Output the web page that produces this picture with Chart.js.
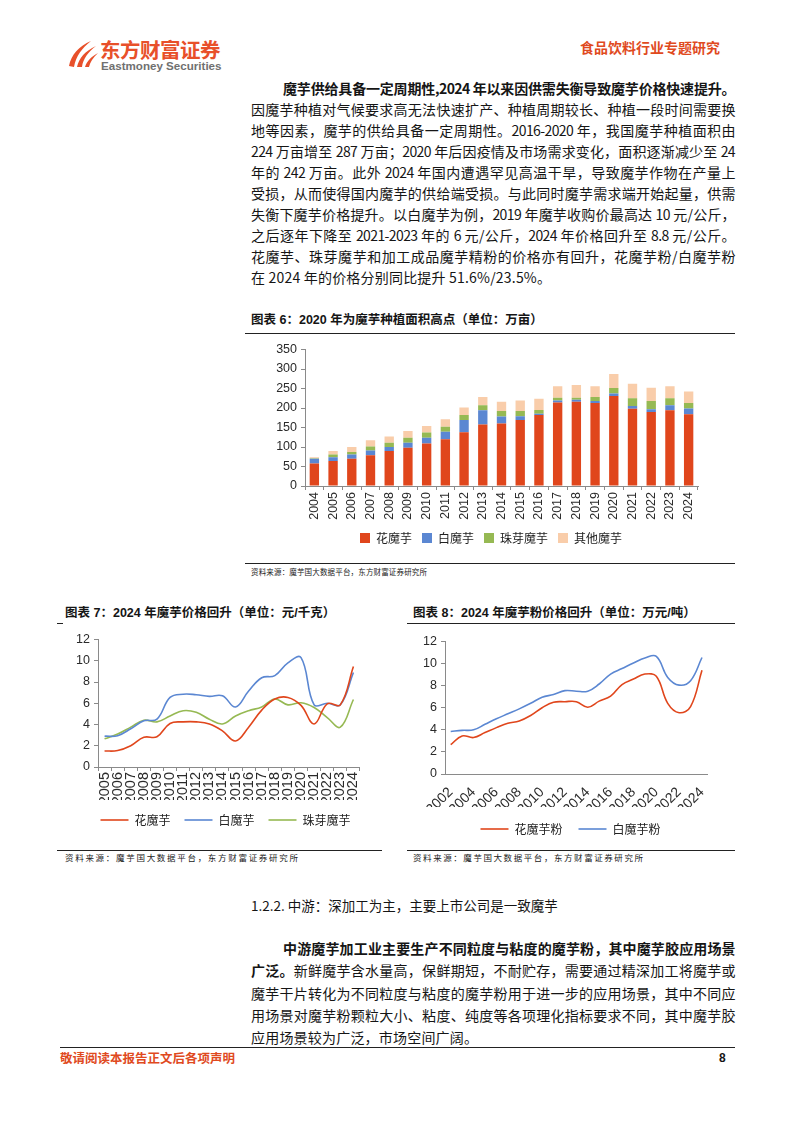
<!DOCTYPE html>
<html>
<head>
<meta charset="utf-8">
<script src="https://cdn.jsdelivr.net/npm/chart.js@4.4.1/dist/chart.umd.min.js"></script>
<style>
  body { margin:0; width:793px; height:1122px; position:relative; background:#fff; overflow:hidden;
         font-family:"Noto Sans CJK SC", sans-serif; color:#151515; }
  .abs { position:absolute; }
  .p { position:absolute; left:251px; width:484px; height:18px; font-size:14px; line-height:18px;
       letter-spacing:-0.6px; text-align:justify; text-align-last:justify; }
  .p.ind { left:283px; width:452px; }
  .p.last { text-align-last:left; letter-spacing:0.2px; }
  .b { font-weight:700; }
  .ttl { position:absolute; font-size:12.5px; line-height:16px; font-weight:700; white-space:nowrap;
         font-family:"Liberation Sans","Noto Sans CJK SC",sans-serif; }
  .rule { position:absolute; height:1px; background:#222; }
  .src { position:absolute; font-size:8.5px; line-height:12px; text-align:justify; text-align-last:justify; color:#222; }
  .box { position:absolute; }
</style>
</head>
<body>

<!-- header -->
<svg class="abs" style="left:67px;top:40px" width="32" height="28" viewBox="0 0 32 28">
  <path d="M2 26 C4 15 12 6 24 1 C15 8 9 16 7 27 Z" fill="#E8502A"/>
  <path d="M10 27 C12 18 18 11 29 6 C21 12 16 19 15 27 Z" fill="#E8502A"/>
  <path d="M18 27 C20 21 24 17 31 13 C26 18 23 22 22 27 Z" fill="#E8502A"/>
</svg>
<div class="abs b" style="left:100px;top:36px;font-size:20.5px;line-height:26px;color:#E8502A;letter-spacing:-0.5px">东方财富证券</div>
<div class="abs" style="left:101px;top:59px;font-size:11.6px;line-height:14px;color:#707070;font-weight:700;font-family:'Liberation Sans',sans-serif">Eastmoney Securities</div>
<div class="abs b" style="right:73px;top:37px;font-size:14px;line-height:20px;color:#E04A1E">食品饮料行业专题研究</div>

<!-- upper paragraph -->
<div class="p ind b" style="top:79px">魔芋供给具备一定周期性,2024 年以来因供需失衡导致魔芋价格快速提升。</div>
<div class="p" style="top:100px">因魔芋种植对气候要求高无法快速扩产、种植周期较长、种植一段时间需要换</div>
<div class="p" style="top:121px">地等因素，魔芋的供给具备一定周期性。2016-2020 年，我国魔芋种植面积由</div>
<div class="p" style="top:142px">224 万亩增至 287 万亩；2020 年后因疫情及市场需求变化，面积逐渐减少至 24</div>
<div class="p" style="top:163px">年的 242 万亩。此外 2024 年国内遭遇罕见高温干旱，导致魔芋作物在产量上</div>
<div class="p" style="top:184px">受损，从而使得国内魔芋的供给端受损。与此同时魔芋需求端开始起量，供需</div>
<div class="p" style="top:205px">失衡下魔芋价格提升。以白魔芋为例，2019 年魔芋收购价最高达 10 元/公斤，</div>
<div class="p" style="top:226px">之后逐年下降至 2021-2023 年的 6 元/公斤，2024 年价格回升至 8.8 元/公斤。</div>
<div class="p" style="top:247px">花魔芋、珠芽魔芋和加工成品魔芋精粉的价格亦有回升，花魔芋粉/白魔芋粉</div>
<div class="p last" style="top:268px">在 2024 年的价格分别同比提升 51.6%/23.5%。</div>

<!-- figure 6 -->
<div class="ttl" style="left:251px;top:312px">图表 6：2020 年为魔芋种植面积高点（单位：万亩）</div>
<div class="rule" style="left:245px;top:333px;width:490px"></div>
<div class="box" style="left:258px;top:338px;width:450px;height:216px"><canvas id="areaChart"></canvas></div>
<div class="rule" style="left:245px;top:563px;width:490px"></div>
<div class="src" style="left:251px;top:566px;width:176px;font-size:7.5px">资料来源：魔芋国大数据平台，东方财富证券研究所</div>

<!-- figure 7 -->
<div class="ttl" style="left:65px;top:605px">图表 7：2024 年魔芋价格回升（单位：元/千克）</div>
<div class="rule" style="left:57px;top:623px;width:6px"></div>
<div class="box" style="left:58px;top:628px;width:314px;height:208px"><canvas id="priceChart"></canvas></div>
<div class="rule" style="left:57px;top:850px;width:325px"></div>
<div class="src" style="left:65px;top:851px;width:233px">资料来源：魔芋国大数据平台，东方财富证券研究所</div>

<!-- figure 8 -->
<div class="ttl" style="left:413px;top:605px">图表 8：2024 年魔芋粉价格回升（单位：万元/吨）</div>
<div class="rule" style="left:407px;top:623px;width:328px"></div>
<div class="box" style="left:405px;top:630px;width:311px;height:215px"><canvas id="powderChart"></canvas></div>
<div class="rule" style="left:407px;top:850px;width:328px"></div>
<div class="src" style="left:413px;top:851px;width:230px">资料来源：魔芋国大数据平台，东方财富证券研究所</div>

<!-- lower section -->
<div class="abs" style="left:251px;top:896px;font-size:13.5px;line-height:18px">1.2.2. 中游：深加工为主，主要上市公司是一致魔芋</div>
<div class="p ind b" style="top:939px">中游魔芋加工业主要生产不同粒度与粘度的魔芋粉，其中魔芋胶应用场景</div>
<div class="p" style="top:961px"><span class="b">广泛。</span>新鲜魔芋含水量高，保鲜期短，不耐贮存，需要通过精深加工将魔芋或</div>
<div class="p" style="top:984px">魔芋干片转化为不同粒度与粘度的魔芋粉用于进一步的应用场景，其中不同应</div>
<div class="p" style="top:1006px">用场景对魔芋粉颗粒大小、粘度、纯度等各项理化指标要求不同，其中魔芋胶</div>
<div class="p last" style="top:1028px">应用场景较为广泛，市场空间广阔。</div>

<!-- footer -->
<div class="rule" style="left:60px;top:1047px;width:675px"></div>
<div class="abs b" style="left:60px;top:1050px;font-size:12.5px;line-height:16px;color:#E04A1E">敬请阅读本报告正文后各项声明</div>
<div class="abs b" style="left:719px;top:1050px;font-size:12px;line-height:16px;font-family:'Liberation Sans',sans-serif">8</div>

<script>
// ── Data ──────────────────────────────────────────────
var areaYears  = ['2004','2005','2006','2007','2008','2009','2010','2011','2012','2013','2014',
                  '2015','2016','2017','2018','2019','2020','2021','2022','2023','2024'];
var huaArea    = [58, 64, 70, 79, 90, 98, 109, 120, 138, 158, 160, 169, 182, 214, 216, 213, 231, 198, 190, 194, 184];
var baiArea    = [12, 10, 11, 12, 10, 13, 15, 19, 31, 36, 18, 10, 3, 5, 5, 5, 6, 7, 7, 13, 15];
var zhuArea    = [1, 7, 6, 10, 11, 13, 13, 13, 13, 13, 14, 13, 10, 7, 5, 10, 14, 20, 21, 18, 14];
var otherArea  = [3, 9, 13, 16, 16, 17, 17, 19, 19, 21, 24, 27, 29, 30, 33, 28, 36, 37, 34, 31, 29];

var priceYears = ['2005','2006','2007','2008','2009','2010','2011','2012','2013','2014',
                  '2015','2016','2017','2018','2019','2020','2021','2022','2023','2024'];
var huaPrice   = [1.5, 1.55, 2.0, 2.8, 2.85, 4.1, 4.25, 4.25, 4.05, 3.4, 2.45, 3.75, 5.35, 6.4, 6.55, 5.8, 4.05, 5.95, 5.85, 9.45];
var baiPrice   = [2.9, 2.95, 3.6, 4.35, 4.5, 6.55, 6.85, 6.8, 6.65, 6.7, 5.65, 7.15, 8.4, 8.6, 9.8, 10.3, 5.85, 6.0, 5.85, 8.9];
var zhuPrice   = [2.65, 3.1, 3.75, 4.4, 4.25, 4.8, 5.3, 5.15, 4.5, 4.05, 4.8, 5.3, 5.65, 6.4, 5.85, 6.05, 5.6, 4.65, 3.75, 6.35];

var powderYears = ['2002','2003','2004','2005','2006','2007','2008','2009','2010','2011','2012','2013',
                   '2014','2015','2016','2017','2018','2019','2020','2021','2022','2023','2024'];
var huaPowder   = [2.65, 3.45, 3.3, 3.75, 4.2, 4.6, 4.8, 5.3, 6.0, 6.5, 6.55, 6.55, 6.05, 6.6, 7.05, 8.1, 8.6, 9.05, 8.85, 6.4, 5.55, 6.1, 9.4];
var baiPowder   = [3.85, 3.95, 4.0, 4.5, 5.0, 5.45, 5.9, 6.4, 6.95, 7.2, 7.55, 7.5, 7.5, 8.15, 9.05, 9.55, 10.05, 10.5, 10.65, 8.75, 8.05, 8.45, 10.55];

// ── Colours ───────────────────────────────────────────
var RED = '#E0461C', BLUE = '#5B87D2', GREEN = '#96B953', PEACH = '#F9CDAA';
var AXIS = '#8a8a8a';

Chart.defaults.font.family = '"Liberation Sans", Arial, sans-serif';
Chart.defaults.color = '#2a2a2a';
Chart.defaults.animation = false;

// nudge the bottom legend sideways so it sits under the plot, not the canvas
var legendShift = {
  id: 'legendShift',
  afterLayout: function (chart, args, opts) {
    var lg = chart.legend;
    if (!lg || !opts.dx) return;
    lg.left += opts.dx;
    lg.right += opts.dx;
  }
};

// ── Helpers ───────────────────────────────────────────
function yAxis(max, step, width) {
  return {
    min: 0, max: max,
    ticks: { stepSize: step, padding: 4, font: { size: 12.5 } },
    grid: { drawOnChartArea: false, drawTicks: true, tickLength: 4, color: AXIS },
    border: { color: AXIS },
    afterFit: function (s) { s.width = width; }
  };
}

function legendOpts(lines, pad) {
  var l = {
    position: 'bottom',
    labels: { padding: pad, color: '#222', font: { family: '"Noto Sans CJK SC", sans-serif', size: 12 } }
  };
  if (lines) {
    l.labels.usePointStyle = true;
    l.labels.pointStyle = 'line';
    l.labels.pointStyleWidth = 28;
  } else {
    l.labels.boxWidth = 10;
    l.labels.boxHeight = 10;
  }
  return l;
}

function lineSet(label, data, color) {
  return { label: label, data: data, borderColor: color, backgroundColor: color,
           borderWidth: 1.6, pointRadius: 0, tension: 0.4, fill: false };
}

// ── Figure 6: stacked bars ────────────────────────────
new Chart(document.getElementById('areaChart'), {
  type: 'bar',
  plugins: [legendShift],
  data: {
    labels: areaYears,
    datasets: [
      { label: '花魔芋',   data: huaArea,   backgroundColor: RED },
      { label: '白魔芋',   data: baiArea,   backgroundColor: BLUE },
      { label: '珠芽魔芋', data: zhuArea,   backgroundColor: GREEN },
      { label: '其他魔芋', data: otherArea, backgroundColor: PEACH }
    ]
  },
  options: {
    responsive: true,
    maintainAspectRatio: false,
    layout: { padding: { top: 10, right: 10 } },
    datasets: { bar: { barPercentage: 0.5, categoryPercentage: 1 } },
    plugins: { legend: legendOpts(false, 10), legendShift: { dx: 13 }, tooltip: { enabled: false } },
    scales: {
      x: {
        stacked: true,
        grid: { offset: true, drawOnChartArea: false, tickLength: 4, color: AXIS },
        border: { color: AXIS },
        ticks: { minRotation: 90, maxRotation: 90, autoSkip: false, padding: 2, font: { size: 12.5 } },
        afterFit: function (s) { s.height = 36; }
      },
      y: Object.assign(yAxis(350, 50, 47), { stacked: true })
    }
  }
});

// ── Figure 7: fresh konjac price ──────────────────────
new Chart(document.getElementById('priceChart'), {
  type: 'line',
  plugins: [legendShift],
  data: {
    labels: priceYears,
    datasets: [
      lineSet('花魔芋', huaPrice, RED),
      lineSet('白魔芋', baiPrice, BLUE),
      lineSet('珠芽魔芋', zhuPrice, GREEN)
    ]
  },
  options: {
    responsive: true,
    maintainAspectRatio: false,
    layout: { padding: { top: 10, right: 7 } },
    plugins: { legend: legendOpts(true, 14), legendShift: { dx: 14 }, tooltip: { enabled: false } },
    scales: {
      x: {
        offset: true,
        grid: { offset: true, drawOnChartArea: false, tickLength: 4, color: AXIS },
        border: { color: AXIS },
        ticks: { minRotation: 90, maxRotation: 90, autoSkip: false, padding: 1, font: { size: 14.5 } },
        afterFit: function (s) { s.height = 33; }
      },
      y: yAxis(12, 2, 40)
    }
  }
});

// ── Figure 8: konjac powder price ─────────────────────
new Chart(document.getElementById('powderChart'), {
  type: 'line',
  plugins: [legendShift],
  data: {
    labels: powderYears,
    datasets: [
      lineSet('花魔芋粉', huaPowder, RED),
      lineSet('白魔芋粉', baiPowder, BLUE)
    ]
  },
  options: {
    responsive: true,
    maintainAspectRatio: false,
    layout: { padding: { top: 10, right: 6 } },
    plugins: { legend: legendOpts(true, 16), legendShift: { dx: 13 }, tooltip: { enabled: false } },
    scales: {
      x: {
        offset: true,
        grid: { display: false },
        border: { color: AXIS },
        ticks: {
          minRotation: 45, maxRotation: 45, autoSkip: false, padding: 2, font: { size: 14 },
          callback: function (v, i) { return i % 2 === 0 ? powderYears[i] : ''; }
        },
        afterFit: function (s) { s.height = 33; }
      },
      y: yAxis(12, 2, 40)
    }
  }
});
</script>
</body>
</html>
